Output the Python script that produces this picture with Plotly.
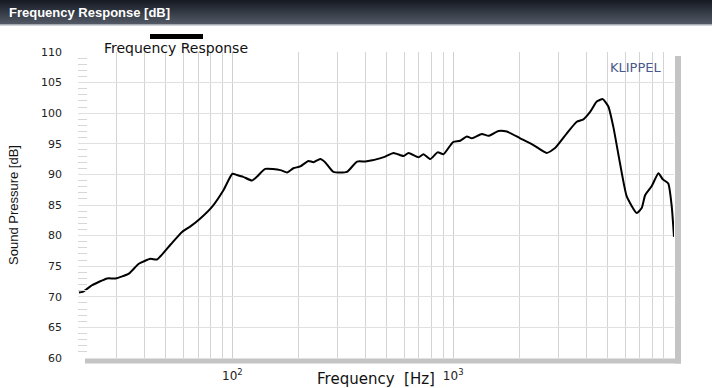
import plotly.graph_objects as go

# ---- data ----
freq_hz = [20.2, 21.0, 23.2, 27.1, 29.6, 34.0, 37.7, 42.6, 45.6, 52.4, 59.2, 64.6, 71.6,
           80.9, 91.4, 100, 104.9, 112, 122.7, 129, 141, 165, 177, 189, 203, 221, 233,
           250, 263, 287, 330, 367, 400, 430, 452, 492, 537, 596, 628, 697, 734, 787,
           850, 904, 960, 1003, 1076, 1153, 1216, 1349, 1446, 1604, 1750, 2011, 2309,
           2652, 2894, 3271, 3628, 3889, 4170, 4469, 4757, 5043, 5310, 5696, 6110, 6780,
           7140, 7400, 7930, 8500, 8890, 9420, 9770, 10000]
spl_db = [70.7, 70.8, 71.9, 73.0, 73.0, 73.8, 75.4, 76.2, 76.1, 78.5, 80.6, 81.5, 82.8,
          84.7, 87.5, 90.1, 89.9, 89.6, 89.0, 89.6, 90.9, 90.7, 90.3, 91.0, 91.3, 92.2, 92.0,
          92.5, 92.0, 90.4, 90.4, 92.1, 92.1, 92.3, 92.5, 92.9, 93.5, 93.0, 93.5, 92.8, 93.3,
          92.5, 93.6, 93.3, 94.5, 95.3, 95.5, 96.2, 95.9, 96.6, 96.3, 97.1, 97.0, 95.9, 94.8,
          93.5, 94.3, 96.7, 98.6, 99.0, 100.2, 101.9, 102.3, 101.1, 97.8, 91.8, 86.4, 83.7,
          84.5, 86.6, 88.1, 90.2, 89.2, 88.5, 84.7, 79.8]
series_name = "Frequency Response"
x_tick_vals = [100, 1000]
x_tick_text = ["10<sup>2</sup>", "10<sup>3</sup>"]
x_grid_vals = [20, 30, 40, 50, 60, 70, 80, 90, 200, 300, 400, 500, 600, 700, 800, 900,
               2000, 3000, 4000, 5000, 6000, 7000, 8000, 9000, 10000]

W, H = 712, 388
L, R, T, B = 78, 674, 52, 358


def px(x):
    return (x - L) / (R - L)


def py(y):
    return (B - y) / (B - T)


fig = go.Figure()
fig.add_trace(go.Scatter(x=freq_hz, y=spl_db, mode="lines", name=series_name,
                         line=dict(color="black", width=2, shape="spline", smoothing=0.5),
                         showlegend=False))

shapes = []
# header gradient
n = 24
c0, c1 = (22, 27, 36), (82, 89, 100)
for i in range(n):
    t = i / (n - 1)
    c = tuple(int(c0[k] + (c1[k] - c0[k]) * t) for k in range(3))
    shapes.append(dict(type="rect", xref="paper", yref="paper",
                       x0=px(-2), x1=px(W + 2), y0=py(i + 1.6), y1=py(i - 0.1),
                       fillcolor="rgb(%d,%d,%d)" % c, line=dict(width=0), layer="below"))
shapes.append(dict(type="rect", xref="paper", yref="paper", x0=px(-2), x1=px(W + 2),
                   y0=py(25.5), y1=py(24.5), fillcolor="#a6abb2", line=dict(width=0), layer="below"))
# plot shadow
shapes.append(dict(type="rect", xref="paper", yref="paper", x0=px(85), x1=px(681),
                   y0=py(363.5), y1=py(358.5), fillcolor="#c4c4c4", line=dict(width=0), layer="below"))
shapes.append(dict(type="rect", xref="paper", yref="paper", x0=px(675), x1=px(681),
                   y0=py(363.5), y1=py(56), fillcolor="#c4c4c4", line=dict(width=0), layer="below"))
# legend line
shapes.append(dict(type="line", xref="paper", yref="paper", x0=px(150), x1=px(203),
                   y0=py(36.5), y1=py(36.5), line=dict(color="black", width=5)))

annotations = [
    dict(text="<b>Frequency Response [dB]</b>", xref="paper", yref="paper",
         x=px(7), y=py(12.5), xanchor="left", yanchor="middle", showarrow=False,
         font=dict(family="Liberation Sans Narrow, Arial Narrow, Liberation Sans, sans-serif",
                   size=13, color="white")),
    dict(text=series_name, xref="paper", yref="paper", x=px(176), y=py(47.5),
         xanchor="center", yanchor="middle", showarrow=False,
         font=dict(family="DejaVu Sans", size=14, color="#111")),
    dict(text="KLIPPEL", xref="paper", yref="paper", x=px(663), y=py(67),
         xanchor="right", yanchor="middle", showarrow=False,
         font=dict(family="DejaVu Sans", size=13, color="#4a5a8c")),
]

fig.update_layout(
    width=W, height=H,
    margin=dict(l=L, r=W - R, t=T, b=H - B, pad=0),
    paper_bgcolor="white", plot_bgcolor="white",
    shapes=shapes, annotations=annotations,
    showlegend=False,
    xaxis=dict(type="log", range=[1.30103, 4.0], tickvals=x_tick_vals, ticktext=x_tick_text,
               ticks="", ticklabelstandoff=9, showline=False, zeroline=False, automargin=False,
               showgrid=True, gridcolor="#cfcfcf", gridwidth=1,
               minor=dict(tickvals=x_grid_vals, showgrid=True, gridcolor="#d4d4d4", ticks=""),
               tickfont=dict(family="DejaVu Sans", size=12, color="#222"),
               title=dict(text="Frequency\u00a0 [Hz]", standoff=3,
                          font=dict(family="DejaVu Sans", size=15, color="#111"))),
    yaxis=dict(range=[60, 110], dtick=5, tick0=60, ticks="", ticklabelstandoff=15,
               showline=False, zeroline=False, showgrid=True, gridcolor="#e0e0e0", automargin=False,
               minor=dict(dtick=1, ticks="inside", ticklen=9, tickcolor="#d6d6d6", showgrid=False),
               tickfont=dict(family="DejaVu Sans", size=11, color="#222"),
               title=dict(text="Sound Pressure [dB]", standoff=19,
                          font=dict(family="Liberation Sans Narrow, Liberation Sans, sans-serif",
                                    size=13, color="#111"))),
)

fig.write_html("out.html")
